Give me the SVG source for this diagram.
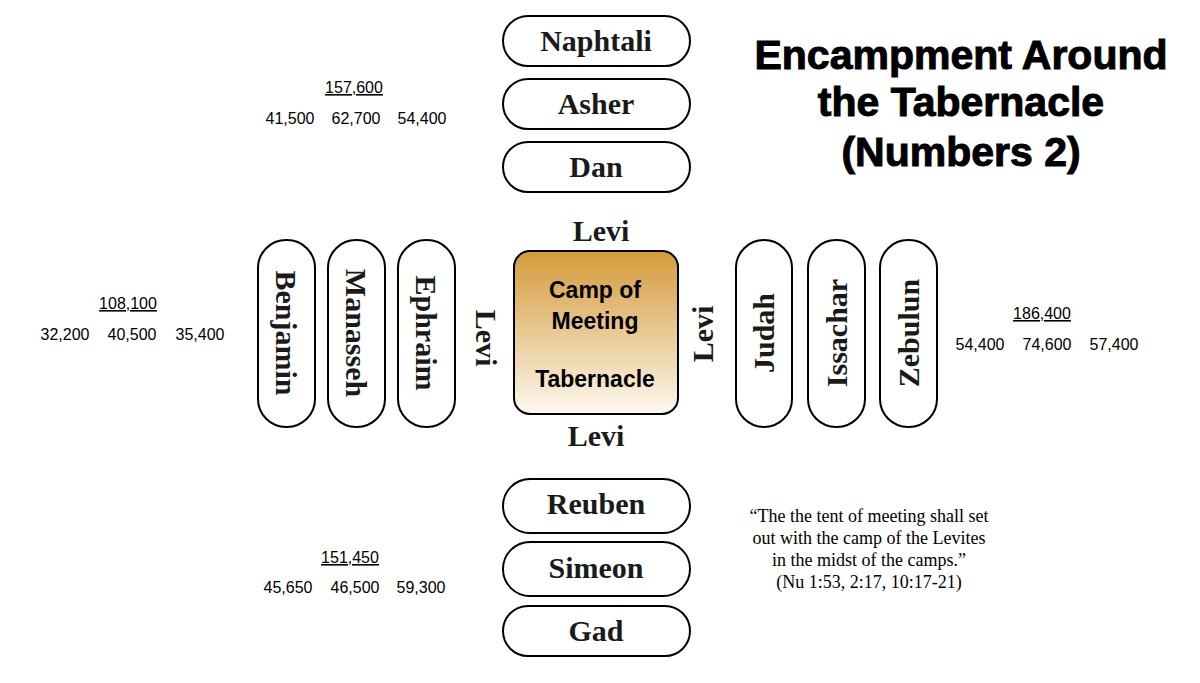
<svg xmlns="http://www.w3.org/2000/svg" width="1200" height="683" viewBox="0 0 1200 683">
<defs>
<linearGradient id="g" x1="0" y1="0" x2="0" y2="1">
<stop offset="0" stop-color="#d49a3a"/><stop offset="1" stop-color="#fdf8ef"/>
</linearGradient>
<style>
.b{fill:#fff;stroke:#000;stroke-width:2}
.t{font-family:"Liberation Serif",serif;font-weight:bold;font-size:30px;fill:#1a1a1a;text-anchor:middle}
.n{font-family:"Liberation Sans",sans-serif;font-size:16px;fill:#000;text-anchor:middle}
.h{font-family:"Liberation Sans",sans-serif;font-weight:bold;font-size:41px;fill:#000;text-anchor:middle;stroke:#000;stroke-width:1}
.c{font-family:"Liberation Sans",sans-serif;font-weight:bold;font-size:23px;fill:#000;text-anchor:middle}
.q{font-family:"Liberation Serif",serif;font-size:18px;fill:#000;text-anchor:middle}
</style>
</defs>
<rect width="1200" height="683" fill="#fff"/>
<g id="title"><text class="h" x="961" y="69">Encampment Around</text><text class="h" x="961" y="116">the Tabernacle</text><text class="h" x="961" y="166">(Numbers 2)</text></g>
<g id="naphtali"><rect class="b" x="503" y="16" width="187" height="50" rx="25"/><text class="t" x="596" y="51">Naphtali</text></g>
<g id="asher"><rect class="b" x="503" y="79" width="187" height="50" rx="25"/><text class="t" x="596" y="114">Asher</text></g>
<g id="dan"><rect class="b" x="503" y="142" width="187" height="50" rx="25"/><text class="t" x="596" y="177">Dan</text></g>
<g id="reuben"><rect class="b" x="503" y="479" width="187" height="54" rx="27"/><text class="t" x="596" y="514">Reuben</text></g>
<g id="simeon"><rect class="b" x="503" y="542" width="187" height="54" rx="27"/><text class="t" x="596" y="578">Simeon</text></g>
<g id="gad"><rect class="b" x="503" y="606" width="187" height="50" rx="25"/><text class="t" x="596" y="641">Gad</text></g>
<g id="benjamin"><rect class="b" x="258" y="240" width="57" height="187" rx="28"/><text class="t" transform="translate(276,333) rotate(90)">Benjamin</text></g>
<g id="manasseh"><rect class="b" x="328" y="240" width="57" height="187" rx="28"/><text class="t" transform="translate(346,333) rotate(90)">Manasseh</text></g>
<g id="ephraim"><rect class="b" x="398" y="240" width="57" height="187" rx="28"/><text class="t" transform="translate(416,333) rotate(90)">Ephraim</text></g>
<g id="judah"><rect class="b" x="736" y="240" width="56" height="187" rx="28"/><text class="t" transform="translate(774,333) rotate(-90)">Judah</text></g>
<g id="issachar"><rect class="b" x="808" y="240" width="57" height="187" rx="28"/><text class="t" transform="translate(847,333) rotate(-90)">Issachar</text></g>
<g id="zebulun"><rect class="b" x="880" y="240" width="57" height="187" rx="28"/><text class="t" transform="translate(919,333) rotate(-90)">Zebulun</text></g>
<g id="tabernacle"><rect x="514" y="251" width="164" height="163" rx="16" fill="url(#g)" stroke="#000" stroke-width="2"/>
<text class="c" x="595" y="298">Camp of</text><text class="c" x="595" y="329">Meeting</text><text class="c" x="595" y="387">Tabernacle</text></g>
<g id="levi"><text class="t" x="601" y="241">Levi</text><text class="t" x="596" y="446">Levi</text>
<text class="t" transform="translate(476,338) rotate(90)">Levi</text><text class="t" transform="translate(713,334) rotate(-90)">Levi</text></g>
<g id="numbers">
<text class="n" x="354" y="93" text-decoration="underline">157,600</text>
<text class="n" x="290" y="124">41,500</text><text class="n" x="356" y="124">62,700</text><text class="n" x="422" y="124">54,400</text>
<text class="n" x="128" y="309" text-decoration="underline">108,100</text>
<text class="n" x="65" y="340">32,200</text><text class="n" x="132" y="340">40,500</text><text class="n" x="200" y="340">35,400</text>
<text class="n" x="1042" y="319" text-decoration="underline">186,400</text>
<text class="n" x="980" y="350">54,400</text><text class="n" x="1047" y="350">74,600</text><text class="n" x="1114" y="350">57,400</text>
<text class="n" x="350" y="563" text-decoration="underline">151,450</text>
<text class="n" x="288" y="593">45,650</text><text class="n" x="355" y="593">46,500</text><text class="n" x="421" y="593">59,300</text>
</g>
<g id="quote"><text class="q" x="869" y="522">“The the tent of meeting shall set</text><text class="q" x="869" y="544">out with the camp of the Levites</text><text class="q" x="869" y="566">in the midst of the camps.”</text><text class="q" x="869" y="588">(Nu 1:53, 2:17, 10:17-21)</text></g>
<g id="connectors"/>
</svg>
